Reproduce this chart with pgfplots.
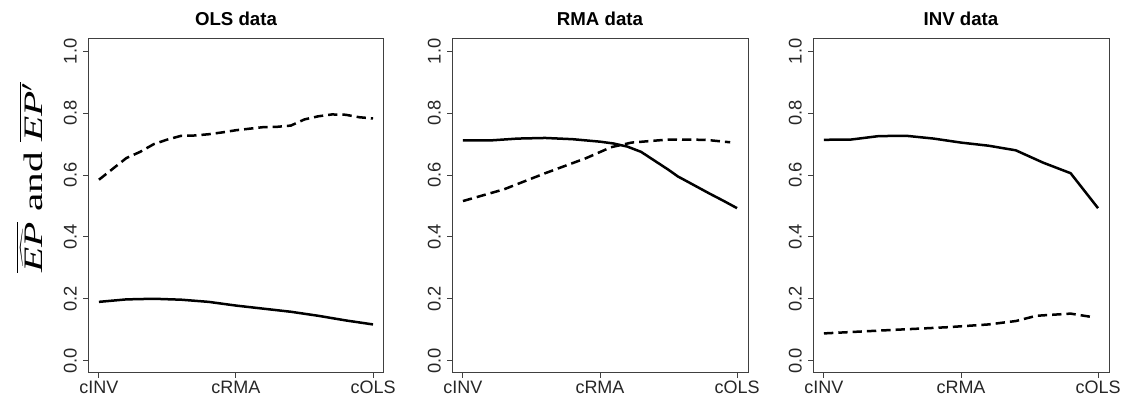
\documentclass[border=0pt]{standalone}
\usepackage{pgfplots}
\pgfplotsset{compat=1.18}
\usepackage{pgfplotstable}
\usepackage{fontspec}
\setmainfont{Liberation Sans}
\newfontfamily\serif{Liberation Serif}

% OLS data
\pgfplotstableread{
x y
0.0 0.190
0.2 0.198
0.4 0.200
0.6 0.197
0.8 0.190
1.0 0.178
1.2 0.168
1.4 0.158
1.6 0.145
1.8 0.130
2.0 0.117
}\olssolid
\pgfplotstableread{
x y
0.0 0.585
0.1 0.620
0.2 0.655
0.3 0.675
0.4 0.700
0.5 0.715
0.6 0.727
0.7 0.728
0.8 0.732
0.9 0.738
1.0 0.745
1.1 0.750
1.2 0.755
1.3 0.756
1.4 0.760
1.5 0.780
1.6 0.790
1.7 0.796
1.8 0.795
1.9 0.787
2.0 0.783
}\olsdash
% RMA data
\pgfplotstableread{
x y
0.0 0.712
0.2 0.712
0.4 0.718
0.6 0.720
0.8 0.716
1.0 0.708
1.1 0.702
1.2 0.692
1.3 0.675
1.4 0.646
1.5 0.617
1.57 0.595
1.6 0.588
1.7 0.564
1.8 0.540
1.9 0.517
2.0 0.493
}\rmasolid
\pgfplotstableread{
x y
0.0 0.516
0.3 0.554
0.6 0.606
0.9 0.655
1.08 0.690
1.23 0.705
1.5 0.715
1.77 0.714
1.95 0.706
}\rmadash
% INV data
\pgfplotstableread{
x y
0.0 0.714
0.2 0.715
0.4 0.726
0.6 0.727
0.8 0.718
1.0 0.705
1.2 0.695
1.4 0.680
1.6 0.640
1.8 0.606
2.0 0.493
}\invsolid
\pgfplotstableread{
x y
0.0 0.088
0.4 0.097
0.9 0.108
1.2 0.117
1.4 0.128
1.55 0.145
1.8 0.152
1.97 0.140
}\invdash

\pgfplotsset{
  rpanel/.style={
    scale only axis, width=177.6pt, height=200.4pt, anchor=south west,
    xmin=-0.08, xmax=2.08, ymin=-0.04, ymax=1.04,
    xtick={0,1,2}, xticklabels={cINV,cRMA,cOLS},
    ytick={0,0.2,0.4,0.6,0.8,1.0},
    yticklabel style={/pgf/number format/fixed, /pgf/number format/fixed zerofill,
      /pgf/number format/precision=1, rotate=90, anchor=south, inner xsep=0pt, inner ysep=3.5pt,
      font=\fontsize{11}{12}\selectfont},
    xticklabel style={anchor=north, inner sep=1.5pt, font=\fontsize{10.8}{12}\selectfont},
    /pgf/number format/assume math mode=true,
    tick align=outside, tick pos=left, major tick length=3pt,
    axis line style={black!75, line width=0.6pt},
    every tick/.style={black!75, line width=0.6pt},
    ticklabel style={text=black!85},
    title style={font=\bfseries\fontsize{11.2}{13}\selectfont, at={(0.5,1)}, anchor=base, yshift=1.8pt},
  },
  sol/.style={black, line width=1.5pt},
  dsh/.style={black, line width=1.5pt, dash pattern=on 5.6pt off 3pt},
}

\begin{document}
\begin{tikzpicture}
\path[use as bounding box] (0,0) rectangle (675pt,240pt);

\begin{axis}[rpanel, at={(52.8pt,16.2pt)}, title={OLS data},
  ylabel={\serif\fontsize{16}{18}\selectfont $\overline{\widehat{\mbox{\itshape EP}}}$ and $\overline{\mbox{\itshape EP$'$}}$},
  ylabel style={at={(axis description cs:-0.196,0.585)}, anchor=center, xscale=1.55}]
\addplot[sol] table {\olssolid};
\addplot[dsh] table {\olsdash};
\end{axis}

\begin{axis}[rpanel, at={(271.2pt,16.2pt)}, title={RMA data}]
\addplot[sol] table {\rmasolid};
\addplot[dsh] table {\rmadash};
\end{axis}

\begin{axis}[rpanel, at={(487.8pt,16.2pt)}, title={INV data}]
\addplot[sol] table {\invsolid};
\addplot[dsh] table {\invdash};
\end{axis}
\end{tikzpicture}
\end{document}
